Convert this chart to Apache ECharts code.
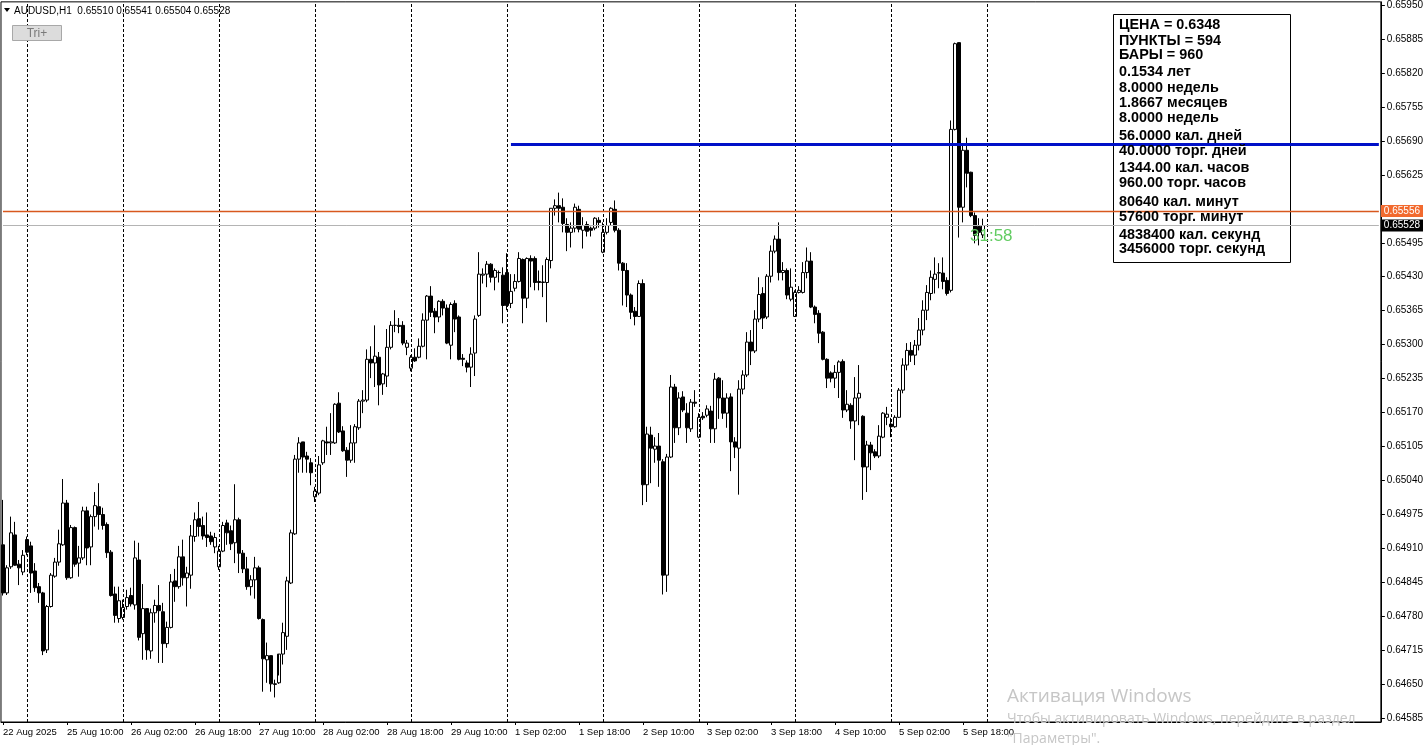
<!DOCTYPE html>
<html><head><meta charset="utf-8">
<script src="https://cdn.jsdelivr.net/npm/echarts@6/dist/echarts.min.js"></script>
<style>html,body{margin:0;padding:0;background:#fff;}#c{width:1426px;height:745px;}</style>
</head><body><div id="c"></div>
<script>
// ---- data (AUDUSD H1) ----
const barDays = ['22 Aug','25 Aug','26 Aug','27 Aug','28 Aug','29 Aug','1 Sep','2 Sep','3 Sep','4 Sep','5 Sep'];
const firstBarHour = 18;
const open = [0.64917,0.64825,0.64875,0.64936,0.64880,0.64865,0.64927,0.64915,0.64867,0.64837,
0.64825,0.64716,0.64799,0.64857,0.64884,0.64917,0.64997,0.64854,0.64950,0.64882,
0.64892,0.64982,0.64913,0.64971,0.64990,0.64975,0.64956,0.64903,0.64823,0.64776,
0.64778,0.64799,0.64820,0.64802,0.64888,0.64747,0.64795,0.64714,0.64787,0.64801,
0.64789,0.64728,0.64759,0.64848,0.64837,0.64894,0.64854,0.64859,0.64933,0.64967,
0.64954,0.64936,0.64934,0.64913,0.64875,0.64905,0.64959,0.64944,0.64921,0.64965,
0.64901,0.64871,0.64837,0.64850,0.64873,0.64774,0.64697,0.64705,0.64651,0.64653,
0.64708,0.64742,0.64844,0.64938,0.65081,0.65114,0.65087,0.65074,0.65009,0.65016,
0.65074,0.65114,0.65112,0.65112,0.65188,0.65135,0.65098,0.65079,0.65112,0.65141,
0.65192,0.65194,0.65272,0.65265,0.65276,0.65225,0.65240,0.65295,0.65337,0.65337,
0.65337,0.65295,0.65255,0.65276,0.65276,0.65297,0.65347,0.65393,0.65364,0.65353,
0.65383,0.65370,0.65299,0.65379,0.65353,0.65274,0.65265,0.65257,0.65284,0.65356,
0.65433,0.65435,0.65454,0.65429,0.65438,0.65433,0.65438,0.65379,0.65408,0.65421,
0.65463,0.65389,0.65465,0.65465,0.65421,0.65419,0.65419,0.65461,0.65561,0.65566,
0.65563,0.65530,0.65515,0.65523,0.65559,0.65519,0.65530,0.65523,0.65523,0.65538,
0.65477,0.65515,0.65534,0.65559,0.65519,0.65456,0.65442,0.65395,0.65364,0.65354,
0.65417,0.65032,0.65127,0.65100,0.65106,0.65076,0.64859,0.65085,0.65219,0.65141,
0.65200,0.65169,0.65139,0.65190,0.65123,0.65163,0.65165,0.65173,0.65139,0.65236,
0.65198,0.65169,0.65200,0.65114,0.65102,0.65215,0.65242,0.65305,0.65288,0.65349,
0.65398,0.65353,0.65431,0.65479,0.65502,0.65438,0.65442,0.65387,0.65354,0.65400,
0.65400,0.65438,0.65460,0.65372,0.65360,0.65324,0.65272,0.65246,0.65236,0.65247,
0.65268,0.65175,0.65184,0.65154,0.65198,0.65163,0.65066,0.65108,0.65095,0.65087,
0.65123,0.65161,0.65148,0.65143,0.65161,0.65213,0.65261,0.65289,0.65280,0.65299,
0.65328,0.65366,0.65398,0.65425,0.65437,0.65437,0.65423,0.65404,0.65712,0.65878,
0.65563,0.65672,0.65630,0.65547,0.65526,0.65510];
const high = [0.65003,0.64878,0.64971,0.64961,0.64888,0.64907,0.64933,0.64923,0.64882,0.64844,
0.64827,0.64802,0.64863,0.64892,0.64946,0.65043,0.65003,0.64955,0.64952,0.64915,
0.64990,0.64990,0.64975,0.65018,0.65035,0.64988,0.64960,0.64907,0.64837,0.64837,
0.64812,0.64831,0.64835,0.64925,0.64921,0.64842,0.64795,0.64795,0.64812,0.64840,
0.64806,0.64770,0.64861,0.64871,0.64915,0.64927,0.64875,0.64955,0.64979,0.64999,
0.64971,0.64979,0.64942,0.64940,0.64915,0.64961,0.64965,0.64954,0.65033,0.64969,
0.64907,0.64894,0.64859,0.64894,0.64877,0.64776,0.64730,0.64705,0.64659,0.64667,
0.64768,0.64856,0.64946,0.65089,0.65123,0.65114,0.65095,0.65083,0.65028,0.65087,
0.65118,0.65143,0.65169,0.65188,0.65209,0.65144,0.65104,0.65146,0.65148,0.65196,
0.65213,0.65291,0.65297,0.65337,0.65286,0.65246,0.65330,0.65345,0.65366,0.65351,
0.65345,0.65309,0.65280,0.65293,0.65312,0.65360,0.65395,0.65412,0.65370,0.65385,
0.65387,0.65377,0.65381,0.65385,0.65356,0.65282,0.65270,0.65295,0.65356,0.65477,
0.65446,0.65460,0.65456,0.65446,0.65442,0.65448,0.65475,0.65435,0.65435,0.65477,
0.65465,0.65467,0.65471,0.65469,0.65442,0.65452,0.65467,0.65561,0.65578,0.65591,
0.65580,0.65542,0.65534,0.65570,0.65566,0.65544,0.65536,0.65526,0.65544,0.65544,
0.65534,0.65542,0.65563,0.65576,0.65523,0.65458,0.65456,0.65398,0.65372,0.65423,
0.65425,0.65143,0.65143,0.65123,0.65131,0.65081,0.65091,0.65242,0.65225,0.65209,
0.65211,0.65188,0.65196,0.65213,0.65169,0.65171,0.65184,0.65183,0.65246,0.65238,
0.65232,0.65207,0.65207,0.65123,0.65232,0.65251,0.65324,0.65328,0.65366,0.65429,
0.65410,0.65435,0.65490,0.65509,0.65534,0.65458,0.65446,0.65446,0.65404,0.65412,
0.65458,0.65486,0.65477,0.65375,0.65366,0.65326,0.65274,0.65249,0.65261,0.65270,
0.65272,0.65213,0.65188,0.65238,0.65261,0.65165,0.65116,0.65114,0.65100,0.65146,
0.65171,0.65181,0.65160,0.65165,0.65217,0.65274,0.65303,0.65305,0.65309,0.65351,
0.65385,0.65414,0.65442,0.65467,0.65456,0.65467,0.65429,0.65729,0.65878,0.65878,
0.65685,0.65696,0.65631,0.65553,0.65542,0.65541];
const low = [0.64820,0.64821,0.64871,0.64877,0.64840,0.64859,0.64897,0.64825,0.64827,0.64806,
0.64706,0.64710,0.64797,0.64854,0.64877,0.64915,0.64850,0.64852,0.64875,0.64856,
0.64888,0.64878,0.64878,0.64952,0.64946,0.64946,0.64892,0.64818,0.64768,0.64768,
0.64774,0.64793,0.64799,0.64793,0.64734,0.64697,0.64697,0.64699,0.64768,0.64691,
0.64691,0.64720,0.64757,0.64808,0.64833,0.64839,0.64799,0.64833,0.64923,0.64933,
0.64927,0.64913,0.64917,0.64901,0.64869,0.64903,0.64917,0.64907,0.64882,0.64863,
0.64863,0.64831,0.64820,0.64814,0.64774,0.64636,0.64653,0.64636,0.64625,0.64651,
0.64688,0.64716,0.64842,0.64936,0.65055,0.65055,0.65055,0.65031,0.64999,0.65012,
0.65070,0.65089,0.65089,0.65110,0.65131,0.65095,0.65047,0.65074,0.65074,0.65137,
0.65169,0.65190,0.65236,0.65219,0.65184,0.65204,0.65219,0.65291,0.65324,0.65322,
0.65299,0.65280,0.65249,0.65267,0.65274,0.65295,0.65272,0.65353,0.65322,0.65343,
0.65356,0.65301,0.65272,0.65324,0.65270,0.65259,0.65247,0.65219,0.65240,0.65353,
0.65417,0.65410,0.65419,0.65404,0.65419,0.65341,0.65366,0.65370,0.65402,0.65419,
0.65341,0.65370,0.65410,0.65404,0.65404,0.65391,0.65343,0.65446,0.65547,0.65534,
0.65515,0.65479,0.65486,0.65515,0.65515,0.65484,0.65507,0.65507,0.65519,0.65524,
0.65475,0.65511,0.65528,0.65515,0.65442,0.65375,0.65372,0.65349,0.65337,0.65353,
0.64993,0.64999,0.65035,0.65074,0.65028,0.64822,0.64827,0.65083,0.65112,0.65127,
0.65171,0.65112,0.65133,0.65181,0.65121,0.65156,0.65161,0.65112,0.65112,0.65158,
0.65158,0.65141,0.65058,0.65083,0.65013,0.65205,0.65238,0.65261,0.65284,0.65343,
0.65330,0.65349,0.65419,0.65475,0.65423,0.65423,0.65387,0.65383,0.65353,0.65398,
0.65398,0.65427,0.65370,0.65341,0.65303,0.65270,0.65217,0.65228,0.65217,0.65198,
0.65160,0.65171,0.65139,0.65079,0.65146,0.65003,0.65018,0.65060,0.65083,0.65083,
0.65121,0.65146,0.65123,0.65141,0.65160,0.65207,0.65251,0.65267,0.65261,0.65289,
0.65318,0.65347,0.65385,0.65398,0.65408,0.65406,0.65394,0.65400,0.65710,0.65505,
0.65534,0.65601,0.65544,0.65494,0.65490,0.65504];
const close = [0.64825,0.64873,0.64940,0.64878,0.64873,0.64897,0.64903,0.64863,0.64835,0.64825,
0.64714,0.64799,0.64859,0.64884,0.64919,0.64997,0.64854,0.64950,0.64880,0.64892,
0.64982,0.64911,0.64971,0.64992,0.64975,0.64954,0.64902,0.64820,0.64782,0.64810,
0.64797,0.64816,0.64804,0.64892,0.64740,0.64795,0.64716,0.64787,0.64801,0.64791,
0.64728,0.64759,0.64846,0.64837,0.64894,0.64854,0.64863,0.64934,0.64965,0.64952,
0.64934,0.64931,0.64923,0.64931,0.64905,0.64954,0.64940,0.64919,0.64965,0.64901,
0.64871,0.64837,0.64850,0.64873,0.64776,0.64699,0.64705,0.64651,0.64650,0.64708,
0.64749,0.64848,0.64940,0.65081,0.65112,0.65085,0.65081,0.65055,0.65020,0.65070,
0.65116,0.65112,0.65114,0.65186,0.65133,0.65097,0.65079,0.65112,0.65143,0.65192,
0.65194,0.65272,0.65265,0.65278,0.65223,0.65244,0.65295,0.65337,0.65337,0.65335,
0.65303,0.65303,0.65276,0.65269,0.65297,0.65347,0.65393,0.65362,0.65353,0.65383,
0.65370,0.65303,0.65377,0.65349,0.65272,0.65272,0.65257,0.65282,0.65349,0.65435,
0.65435,0.65454,0.65429,0.65442,0.65438,0.65375,0.65375,0.65402,0.65421,0.65465,
0.65389,0.65465,0.65460,0.65419,0.65419,0.65420,0.65463,0.65561,0.65566,0.65561,
0.65532,0.65515,0.65523,0.65563,0.65521,0.65528,0.65517,0.65519,0.65542,0.65534,
0.65515,0.65528,0.65561,0.65519,0.65456,0.65442,0.65395,0.65362,0.65354,0.65417,
0.65032,0.65129,0.65102,0.65106,0.65079,0.64859,0.65085,0.65219,0.65141,0.65198,
0.65175,0.65141,0.65190,0.65188,0.65161,0.65160,0.65177,0.65139,0.65234,0.65198,
0.65169,0.65198,0.65114,0.65104,0.65215,0.65242,0.65305,0.65288,0.65349,0.65396,
0.65351,0.65431,0.65479,0.65502,0.65438,0.65442,0.65395,0.65410,0.65400,0.65404,
0.65438,0.65460,0.65372,0.65358,0.65322,0.65272,0.65236,0.65236,0.65247,0.65267,
0.65175,0.65186,0.65154,0.65198,0.65207,0.65066,0.65108,0.65093,0.65087,0.65125,
0.65169,0.65167,0.65143,0.65161,0.65213,0.65261,0.65289,0.65280,0.65299,0.65328,
0.65366,0.65400,0.65429,0.65435,0.65438,0.65421,0.65398,0.65712,0.65876,0.65563,
0.65672,0.65628,0.65547,0.65509,0.65515,0.65528];

const xTickLabels = ['22 Aug 2025','25 Aug 10:00','26 Aug 02:00','26 Aug 18:00','27 Aug 10:00','28 Aug 02:00','28 Aug 18:00','29 Aug 10:00','1 Sep 02:00','1 Sep 18:00','2 Sep 10:00','3 Sep 02:00','3 Sep 18:00','4 Sep 10:00','5 Sep 02:00','5 Sep 18:00'];
const xTickStep = 16;
const daySeparators = [6,30,54,78,102,126,150,174,198,222,246];
const yTicks = [0.64585,0.64650,0.64715,0.64780,0.64845,0.64910,0.64975,0.65040,0.65105,0.65170,0.65235,0.65300,0.65365,0.65430,0.65495,0.65625,0.65690,0.65755,0.65820,0.65885,0.65950];
const yMin = 0.64578, yMax = 0.65956;
const totalSlots = 345;
const blueLevel = 0.65683, blueStartBar = 127;
const orangeLevel = 0.65556;
const bidLevel = 0.65528;
const headerText = 'AUDUSD,H1  0.65510 0.65541 0.65504 0.65528';
const timerText = '31:58';
const infoLines = ['ЦЕНА = 0.6348','ПУНКТЫ = 594','БАРЫ = 960','0.1534 лет','8.0000 недель','1.8667 месяцев','8.0000 недель','56.0000 кал. дней','40.0000 торг. дней','1344.00 кал. часов','960.00 торг. часов','80640 кал. минут','57600 торг. минут','4838400 кал. секунд','3456000 торг. секунд'];
const watermark = ['Активация Windows','Чтобы активировать Windows, перейдите в раздел','"Параметры".'];

// ---- layout ----
const infoLineY = [25,41,55,72,88,103,118,136,151,168,183,202,217,235,249];
const FONT = '"Liberation Sans", Arial, sans-serif';

const cats = [];
barDays.forEach((d, di) => {
  for (let h = (di === 0 ? firstBarHour : 0); h < 24; h++) cats.push(d + ' ' + String(h).padStart(2,'0') + ':00');
});
const axisCats = cats.slice();
for (let i = axisCats.length; i < totalSlots; i++) axisCats.push('pad' + i);
const candles = open.map((o, i) => [o, close[i], low[i], high[i]]);
const isTick = (idx) => idx % xTickStep === 0 && idx / xTickStep < xTickLabels.length;
const lastSlot = totalSlots - 1;

const chart = echarts.init(document.getElementById('c'));
const graphics = [
  {type:'polygon', shape:{points:[[4,8],[10,8],[7,12]]}, style:{fill:'#000'}, z:20},
  {type:'text', x:14, y:11, style:{text:headerText, font:'10px '+FONT, fill:'#000', verticalAlign:'middle'}, z:20},
  {type:'rect', shape:{x:12.5, y:25.5, width:49, height:15}, style:{fill:'#dcdcdc', stroke:'#a8a8a8', lineWidth:1}, z:20},
  {type:'text', x:37, y:33.5, style:{text:'Tri+', font:'12px '+FONT, fill:'#7a7a7a', align:'center', verticalAlign:'middle'}, z:21},
  {type:'rect', shape:{x:1113.5, y:14.5, width:177, height:248}, style:{fill:'#fff', stroke:'#000', lineWidth:1}, z:5},
  {type:'text', x:970, y:236, style:{text:timerText, font:'17px '+FONT, fill:'#62cc62', verticalAlign:'middle'}, z:22},
  {type:'text', x:1007, y:697, style:{text:watermark[0], font:'19px "Open Sans", sans-serif', fill:'#c6c6c6', verticalAlign:'middle'}, z:30},
  {type:'text', x:1007, y:719, style:{text:watermark[1], font:'14px "Open Sans", sans-serif', fill:'#c6c6c6', verticalAlign:'middle'}, z:30},
  {type:'text', x:1007, y:739, style:{text:watermark[2], font:'14px "Open Sans", sans-serif', fill:'#c6c6c6', verticalAlign:'middle'}, z:30}
];
infoLines.forEach((t, i) => graphics.push({type:'text', x:1119, y:infoLineY[i], style:{text:t, font:'bold 14.4px '+FONT, fill:'#000', verticalAlign:'middle'}, z:6}));

const dayLines = daySeparators.map(d => ({xAxis: d}));
const tagLabel = (txt, bg) => ({show:true, position:'end', distance:2, formatter:txt, backgroundColor:bg, color:'#fff', fontSize:10, fontFamily:FONT, padding:[1,3,1,3]});
const levelSeries = (level, color, bg, w) => ({type:'line', data:[], z:3, color:color,
  markLine:{silent:true, symbol:['none','none'], animation:false,
    lineStyle:{color:color, width:w, type:'solid', opacity:1},
    label:tagLabel(level.toFixed(5), bg),
    data:[[{xAxis:0, yAxis:level},{xAxis:lastSlot, yAxis:level}]]}});

chart.setOption({
  animation:false,
  backgroundColor:'#fff',
  textStyle:{fontFamily:FONT},
  grid:{left:0, top:0, width:1381, height:722, show:true, borderColor:'#000', borderWidth:1, backgroundColor:'transparent'},
  xAxis:{type:'category', data:axisCats, boundaryGap:true,
    axisLine:{show:true, lineStyle:{color:'#000', width:1}},
    axisTick:{show:true, interval:(i)=>isTick(i), alignWithLabel:true, length:3, lineStyle:{color:'#000'}},
    axisLabel:{interval:(i)=>isTick(i), formatter:(v,i)=>xTickLabels[i/xTickStep], align:'left', color:'#000', fontSize:9.5, fontFamily:FONT, margin:5},
    splitLine:{show:false}},
  yAxis:{type:'value', position:'right', min:yMin, max:yMax, scale:true,
    axisLine:{show:true, lineStyle:{color:'#000', width:1}},
    axisTick:{show:true, customValues:yTicks, length:4, inside:false, lineStyle:{color:'#000'}},
    axisLabel:{customValues:yTicks, formatter:(v)=>v.toFixed(5), color:'#000', fontSize:10, fontFamily:FONT, margin:6},
    splitLine:{show:false}},
  graphic:{elements:graphics},
  series:[
    {type:'candlestick', data:candles, barWidth:3, z:2,
      itemStyle:{color:'#fff', color0:'#000', borderColor:'#000', borderColor0:'#000', borderColorDoji:'#000', borderWidth:1},
      markLine:{silent:true, symbol:['none','none'], animation:false, label:{show:false},
        lineStyle:{color:'#000', type:[3,2], width:1},
        data:dayLines}},
    levelSeries(bidLevel, '#b4b4b4', '#000', 1),
    levelSeries(orangeLevel, '#d8581e', '#f26a2e', 1.4),
    {type:'line', data:[], z:10, color:'#0010c8',
      markLine:{silent:true, symbol:['none','none'], animation:false, label:{show:false},
        lineStyle:{color:'#0010c8', width:3, type:'solid'},
        data:[[{xAxis:blueStartBar, yAxis:blueLevel},{xAxis:lastSlot, yAxis:blueLevel}]]}}
  ]
});
</script></body></html>
